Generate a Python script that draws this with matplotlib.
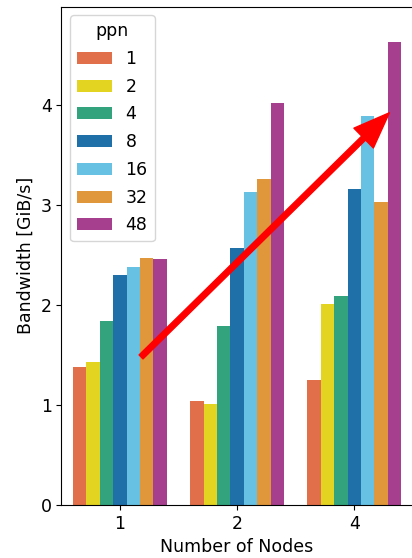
import numpy as np
import pandas as pd
import matplotlib
matplotlib.use("Agg")
import matplotlib.pyplot as plt
import seaborn as sns

nodes = ["1", "2", "4"]
ppn = ["1", "2", "4", "8", "16", "32", "48"]
# bandwidth [GiB/s], one list per node count, ordered by ppn
bw_1node = [1.38, 1.43, 1.84, 2.30, 2.38, 2.47, 2.46]
bw_2node = [1.04, 1.01, 1.79, 2.57, 3.13, 3.26, 4.02]
bw_4node = [1.25, 2.01, 2.09, 3.16, 3.89, 3.03, 4.63]
colors = ["#e1704a", "#e3d422", "#33a37e", "#1f6fa8", "#67c1e2", "#e0963a", "#a53f8e"]

rows = []
for n, vals in zip(nodes, [bw_1node, bw_2node, bw_4node]):
    for p, v in zip(ppn, vals):
        rows.append({"Number of Nodes": n, "ppn": p, "bw": v})
df = pd.DataFrame(rows)

plt.rcParams["font.size"] = 12.5

fig = plt.figure(figsize=(4.12, 5.58), dpi=100)
ax = fig.add_axes([0.149, 0.095, 0.853, 0.893])

sns.barplot(data=df, x="Number of Nodes", y="bw", hue="ppn", order=nodes,
            hue_order=ppn, palette=colors, saturation=1, ax=ax)

ax.set_ylim(0, 4.98)
ax.set_xlim(-0.5, 2.5)
ax.set_ylabel("Bandwidth [GiB/s]")
ax.set_xlabel("Number of Nodes")
ax.legend(title="ppn", loc="upper left", fontsize=12.5, title_fontsize=12.5,
          labelspacing=0.56)

# red arrow drawn over the bars
ax.annotate("", xy=(2.30, 3.92), xytext=(0.18, 1.48),
            arrowprops=dict(facecolor="red", edgecolor="red", width=4,
                            headwidth=20, headlength=26, shrink=0))

fig.savefig("out.png", dpi=100)
